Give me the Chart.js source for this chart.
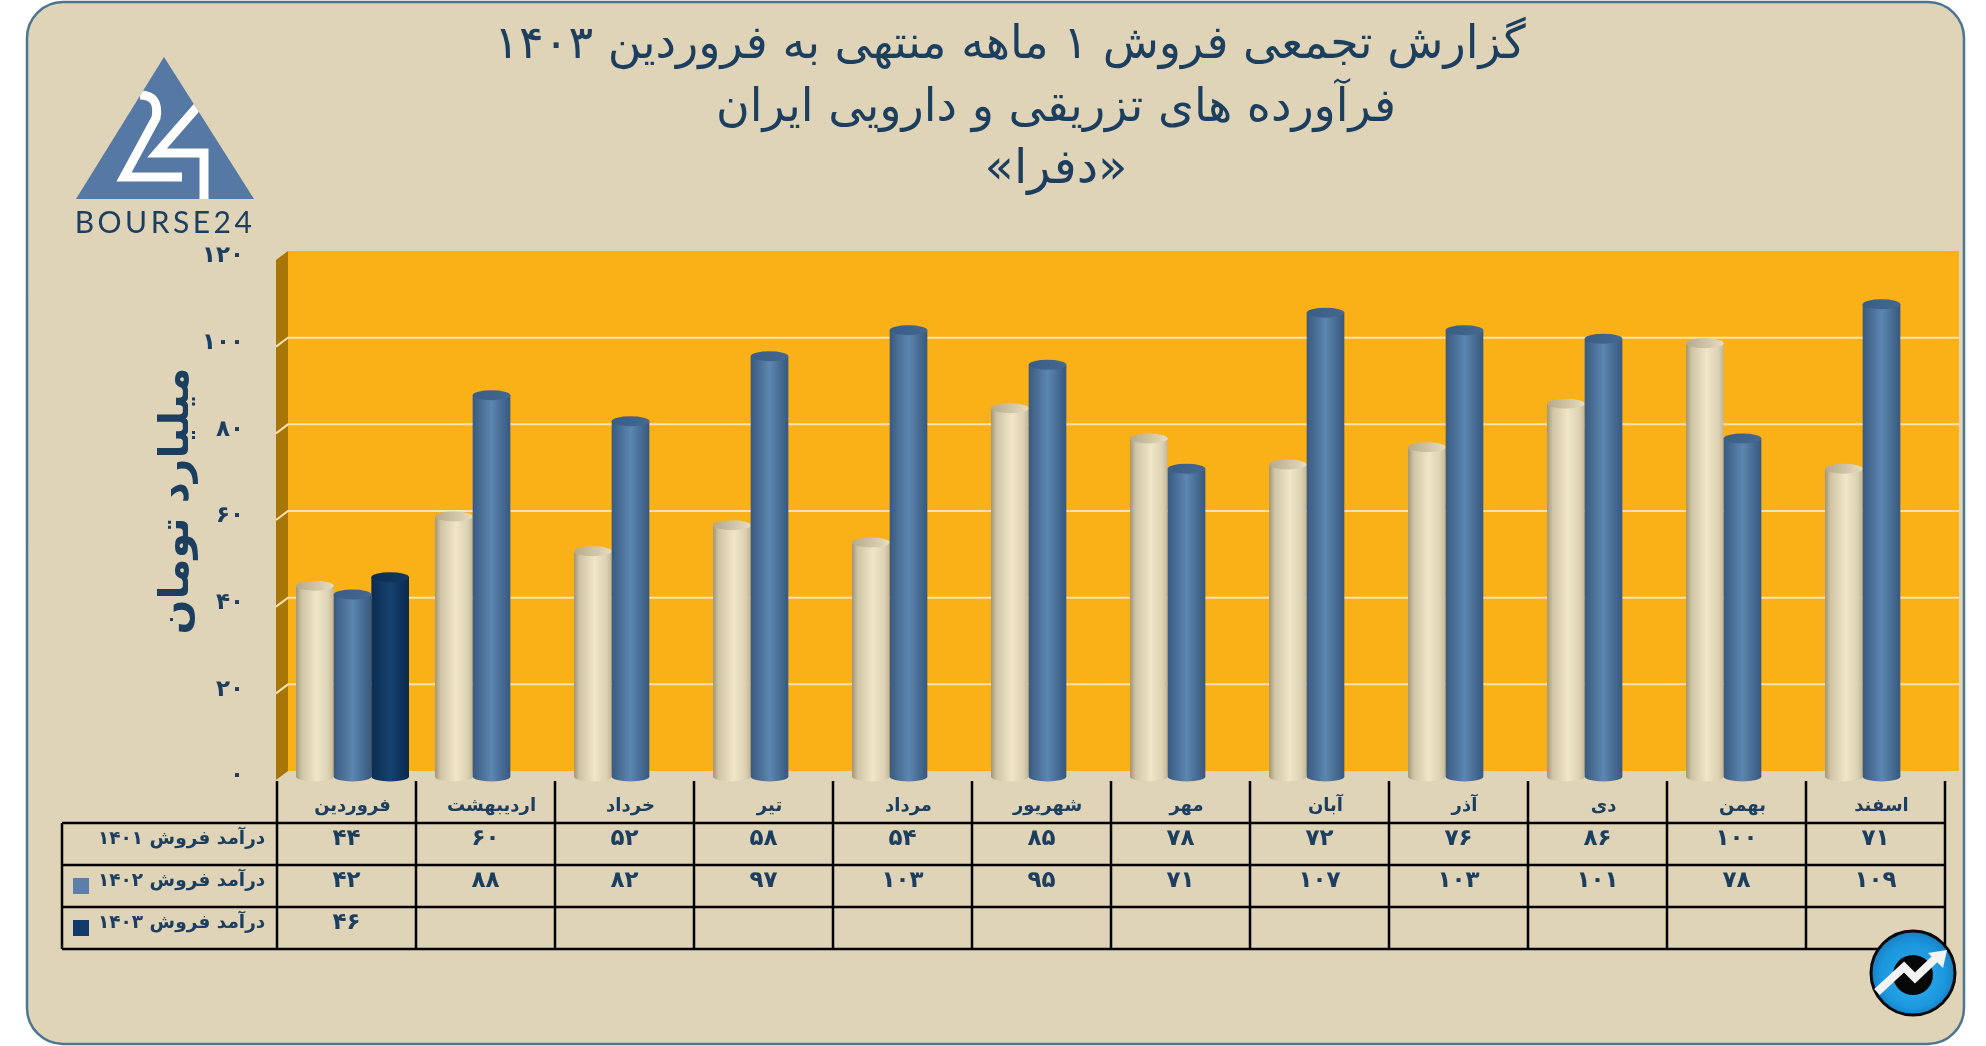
<!DOCTYPE html>
<html>
<head>
<meta charset="utf-8">
<title>دفرا</title>
<script src="https://cdn.jsdelivr.net/npm/chart.js@4/dist/chart.umd.js"></script>
<style>
  html, body { margin: 0; padding: 0; background: #fff; }
  canvas { display: block; }
</style>
</head>
<body>
<canvas id="chart" width="1986" height="1046" dir="rtl"></canvas>
<script>
const months = ['فروردین', 'اردیبهشت', 'خرداد', 'تیر', 'مرداد', 'شهریور', 'مهر', 'آبان', 'آذر', 'دی', 'بهمن', 'اسفند'];
const sales1401 = [44, 60, 52, 58, 54, 85, 78, 72, 76, 86, 100, 71];
const sales1402 = [42, 88, 82, 97, 103, 95, 71, 107, 103, 101, 78, 109];
const sales1403 = [46, null, null, null, null, null, null, null, null, null, null, null];
const seriesNames = ['درآمد فروش ۱۴۰۱', 'درآمد فروش ۱۴۰۲', 'درآمد فروش ۱۴۰۳'];
const titleLines = ['گزارش تجمعی فروش ۱ ماهه منتهی به فروردین ۱۴۰۳', 'فرآورده های تزریقی و دارویی ایران', '«دفرا»'];
const yTitle = 'میلیارد تومان';

const NAVY = '#1c3f60';
const FONT = '"DejaVu Sans"';
const WALL_OFFSET = 5.5; // back wall sits this far above the bars' scale

// latin digits -> persian digits
function fa(n) {
  return String(n).replace(/\d/g, d => '۰۱۲۳۴۵۶۷۸۹'[d]);
}

// horizontal shading of each cylinder, per dataset
const cylinderColors = [
  { stops: [[0, '#a09676'], [0.15, '#cfc4a5'], [0.55, '#f0e6c8'], [0.85, '#ddd2b3'], [1, '#c2b697']], top: '#b5a98a', topLight: '#e6dcbe' },
  { stops: [[0, '#3a5a80'], [0.5, '#5c86b0'], [1, '#37587e']], top: '#3a5d88', topLight: '#45688f' },
  { stops: [[0, '#0b2c52'], [0.5, '#15426f'], [1, '#0a294c']], top: '#0c2c50', topLight: '#123a60' }
];

function drawCylinder(ctx, bar, c) {
  const { x, y, base, width } = bar.getProps(['x', 'y', 'base', 'width']);
  const left = x - width / 2;
  const rx = width / 2;
  const ry = 5;
  const g = ctx.createLinearGradient(left, 0, left + width, 0);
  c.stops.forEach(s => g.addColorStop(s[0], s[1]));
  ctx.save();
  ctx.fillStyle = g;
  ctx.beginPath();
  ctx.moveTo(left, y);
  ctx.lineTo(left, base);
  ctx.ellipse(x, base, rx, ry, 0, Math.PI, 0, true);
  ctx.lineTo(left + width, y);
  ctx.closePath();
  ctx.fill();
  const t = ctx.createLinearGradient(left, 0, left + width, 0);
  t.addColorStop(0, c.top);
  t.addColorStop(1, c.topLight);
  ctx.fillStyle = t;
  ctx.beginPath();
  ctx.ellipse(x, y, rx, ry, 0, 0, Math.PI * 2);
  ctx.fill();
  ctx.restore();
}

// bars keep the geometry of the bar controller, only the look changes
const cylinderPlugin = {
  id: 'cylinder',
  beforeDatasetDraw() {
    return false;
  },
  afterDatasetsDraw(chart) {
    chart.data.datasets.forEach((ds, i) => {
      chart.getDatasetMeta(i).data.forEach((bar, j) => {
        if (ds.data[j] === null) return;
        drawCylinder(chart.ctx, bar, cylinderColors[i]);
      });
    });
  }
};

function drawBourseLogo(ctx) {
  ctx.save();
  ctx.beginPath();
  ctx.moveTo(164, 57);
  ctx.lineTo(254, 199);
  ctx.lineTo(76, 199);
  ctx.closePath();
  ctx.fillStyle = '#5578a5';
  ctx.fill();
  ctx.clip();
  ctx.strokeStyle = '#ffffff';
  ctx.lineWidth = 9;
  ctx.beginPath();
  ctx.moveTo(140, 95);
  ctx.quadraticCurveTo(160, 95, 156, 118);
  ctx.lineTo(124, 177);
  ctx.lineTo(182, 177);
  ctx.stroke();
  ctx.beginPath();
  ctx.moveTo(198, 106);
  ctx.lineTo(157, 153);
  ctx.lineTo(204, 153);
  ctx.lineTo(204, 204);
  ctx.stroke();
  ctx.restore();
  ctx.save();
  ctx.direction = 'ltr';
  ctx.fillStyle = NAVY;
  ctx.font = '30px Lato';
  ctx.letterSpacing = '3.5px';
  ctx.textAlign = 'center';
  ctx.textBaseline = 'middle';
  ctx.fillText('BOURSE24', 165, 223);
  ctx.restore();
}

function drawRoundLogo(ctx) {
  const cx = 1913, cy = 973;
  ctx.save();
  const g = ctx.createRadialGradient(cx, cy + 10, 10, cx, cy, 42);
  g.addColorStop(0, '#2aa5ea');
  g.addColorStop(0.7, '#1b97dd');
  g.addColorStop(1, '#1a7fc4');
  ctx.beginPath();
  ctx.arc(cx, cy, 42, 0, Math.PI * 2);
  ctx.fillStyle = g;
  ctx.fill();
  ctx.lineWidth = 3;
  ctx.strokeStyle = '#0a0a0a';
  ctx.stroke();
  ctx.beginPath();
  ctx.arc(cx, cy + 2, 20, 0, Math.PI * 2);
  ctx.fillStyle = '#070707';
  ctx.fill();
  ctx.strokeStyle = '#f3f3f3';
  ctx.lineWidth = 8;
  ctx.lineJoin = 'miter';
  ctx.beginPath();
  ctx.moveTo(1877, 992);
  ctx.lineTo(1904, 967);
  ctx.lineTo(1915, 978);
  ctx.lineTo(1938, 956);
  ctx.stroke();
  ctx.beginPath();
  ctx.moveTo(1947, 950);
  ctx.lineTo(1928, 953);
  ctx.lineTo(1943, 968);
  ctx.closePath();
  ctx.fillStyle = '#f3f3f3';
  ctx.fill();
  ctx.restore();
}

const frameAndTablePlugin = {
  id: 'frameAndTable',
  beforeDraw(chart) {
    const ctx = chart.ctx;
    const y = chart.scales.y;
    // panel
    ctx.save();
    ctx.beginPath();
    ctx.roundRect(27, 2, 1937, 1042, 36);
    ctx.fillStyle = '#dfd3b8';
    ctx.fill();
    ctx.lineWidth = 2.5;
    ctx.strokeStyle = '#4c7590';
    ctx.stroke();

    // back and side wall, 3d look
    const wallTop = y.getPixelForValue(120) - WALL_OFFSET;
    const wallBottom = y.getPixelForValue(0) - WALL_OFFSET;
    ctx.fillStyle = '#fab017';
    ctx.fillRect(288, wallTop, 1671, wallBottom - wallTop);
    ctx.fillStyle = '#a87508';
    ctx.beginPath();
    ctx.moveTo(288, wallTop);
    ctx.lineTo(276, wallTop + 9);
    ctx.lineTo(276, wallBottom + 9);
    ctx.lineTo(288, wallBottom);
    ctx.closePath();
    ctx.fill();

    // grid lines, on the back wall and down the side wall
    ctx.strokeStyle = '#fbe2b0';
    ctx.lineWidth = 2;
    y.ticks.forEach(t => {
      if (t.value === 0 || t.value === 120) return;
      const p = y.getPixelForValue(t.value) - WALL_OFFSET;
      ctx.beginPath();
      ctx.moveTo(276, p + 9);
      ctx.lineTo(288, p);
      ctx.lineTo(1959, p);
      ctx.stroke();
    });

    // title lines, the first one is centred further left than the others
    ctx.fillStyle = NAVY;
    ctx.textAlign = 'center';
    ctx.textBaseline = 'middle';
    ctx.font = '46px ' + FONT;
    ctx.fillText(titleLines[0], 1010, 46);
    ctx.fillText(titleLines[1], 1056, 109);
    ctx.font = '48px ' + FONT;
    ctx.fillText(titleLines[2], 1056, 171);
    ctx.restore();
    drawBourseLogo(ctx);
  },
  afterDatasetsDraw(chart) {
    const ctx = chart.ctx;
    const x = chart.scales.x;
    const shift = 6; // table grid sits half the depth left of the bars
    const step = x.getPixelForTick(1) - x.getPixelForTick(0);
    const rowLines = [823, 865, 907, 949];
    const textRows = [839, 881, 923];
    const tableLeft = 62;
    const first = x.getPixelForTick(0) - step / 2 - shift;
    const last = first + step * months.length;
    ctx.save();
    ctx.strokeStyle = '#000';
    ctx.lineWidth = 2.5;
    rowLines.forEach(ly => {
      ctx.beginPath();
      ctx.moveTo(tableLeft, ly);
      ctx.lineTo(last, ly);
      ctx.stroke();
    });
    ctx.beginPath();
    ctx.moveTo(tableLeft, 823);
    ctx.lineTo(tableLeft, 949);
    ctx.stroke();
    for (let i = 0; i <= months.length; i++) {
      ctx.beginPath();
      ctx.moveTo(first + i * step, 781);
      ctx.lineTo(first + i * step, 949);
      ctx.stroke();
    }
    ctx.fillStyle = NAVY;
    ctx.textBaseline = 'middle';
    const rows = [sales1401, sales1402, sales1403];
    rows.forEach((row, r) => {
      ctx.font = 'bold 18.5px ' + FONT;
      ctx.textAlign = 'left';
      ctx.fillText(seriesNames[r], 98, textRows[r]);
      ctx.font = 'bold 23px ' + FONT;
      ctx.textAlign = 'center';
      row.forEach((v, i) => {
        if (v === null) return;
        ctx.fillText(fa(v), first + (i + 0.5) * step, textRows[r]);
      });
    });
    // legend swatches
    ctx.fillStyle = '#5b7fa8';
    ctx.fillRect(73, 878, 16, 16);
    ctx.fillStyle = '#103a6b';
    ctx.fillRect(73, 920, 16, 16);

    // value axis name
    ctx.translate(177, 501);
    ctx.rotate(-Math.PI / 2);
    ctx.font = 'bold 41px ' + FONT;
    ctx.textAlign = 'center';
    ctx.fillStyle = NAVY;
    ctx.fillText(yTitle, 0, 0);
    ctx.restore();
  },
  afterDraw(chart) {
    drawRoundLogo(chart.ctx);
  }
};

new Chart(document.getElementById('chart'), {
  type: 'bar',
  data: {
    labels: months,
    datasets: [
      { label: seriesNames[0], data: sales1401, backgroundColor: '#e6dcbe' },
      { label: seriesNames[1], data: sales1402, backgroundColor: '#5b7fa8' },
      { label: seriesNames[2], data: sales1403, backgroundColor: '#103a6b' }
    ]
  },
  options: {
    responsive: false,
    animation: false,
    devicePixelRatio: 1,
    layout: { padding: { left: 69, right: 35, top: 256.5, bottom: 0 } },
    categoryPercentage: 0.813,
    barPercentage: 1,
    scales: {
      x: {
        grid: { display: false },
        border: { display: false },
        afterFit(axis) { axis.height = 269.5; },
        ticks: {
          padding: 11,
          maxRotation: 0,
          autoSkip: false,
          color: NAVY,
          font: { family: FONT, size: 18, weight: 'bold' }
        }
      },
      y: {
        min: 0,
        max: 120,
        afterFit(axis) { axis.width = 214; },
        grid: { display: false },
        border: { display: false },
        ticks: {
          stepSize: 20,
          padding: 31,
          color: NAVY,
          font: { family: FONT, size: 23, weight: 'bold' },
          callback: v => fa(v)
        }
      }
    },
    plugins: {
      legend: { display: false },
      tooltip: { enabled: false },
      title: { display: false }
    }
  },
  plugins: [cylinderPlugin, frameAndTablePlugin]
});
</script>
</body>
</html>
